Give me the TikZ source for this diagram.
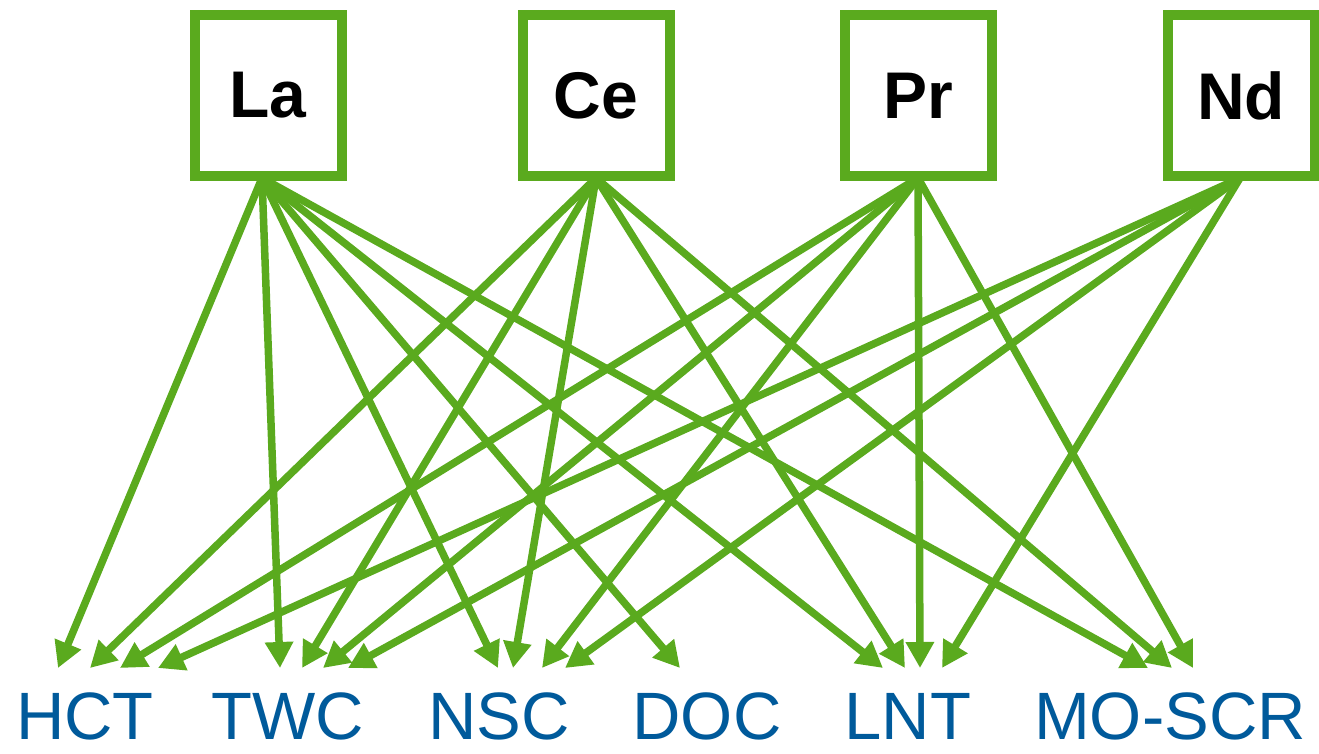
\documentclass[tikz,border=0pt]{standalone}
\usepackage{fontspec}
\setmainfont{Liberation Sans}
\usetikzlibrary{arrows.meta}
\definecolor{lgreen}{RGB}{90,170,30}
\definecolor{lblue}{RGB}{0,90,155}
\begin{document}
\begin{tikzpicture}[x=1pt,y=-1pt,
  elem/.style={draw=lgreen,line width=10pt,fill=white,minimum width=147pt,minimum height=161pt,inner sep=0pt,
    font=\fontsize{66}{78}\selectfont\bfseries,text=black},
  target/.style={anchor=base,font=\fontsize{67}{80}\selectfont,text=lblue,inner sep=0pt},
  link/.style={draw=lgreen,line width=7.5pt,-{Triangle[length=26pt,width=27pt]}}]
\useasboundingbox (0,0) rectangle (1319,753);
% source points
\coordinate (oLa) at (262,178);
\coordinate (oCe) at (596,178);
\coordinate (oPr) at (918,178);
\coordinate (oNd) at (1240,178);
% tips
\coordinate (h1) at (58,668);  \coordinate (h2) at (90,668);  \coordinate (h3) at (120,668);  \coordinate (h4) at (158,668);
\coordinate (t1) at (280,668); \coordinate (t2) at (302,668); \coordinate (t3) at (323,668); \coordinate (t4) at (348,668);
\coordinate (n1) at (498,668); \coordinate (n2) at (513,668); \coordinate (n3) at (542,668); \coordinate (n4) at (565,668);
\coordinate (d1) at (680,668);
\coordinate (l1) at (883,668); \coordinate (l2) at (905,668); \coordinate (l3) at (920,668); \coordinate (l4) at (942,668);
\coordinate (m1) at (1148,668); \coordinate (m2) at (1172,668); \coordinate (m3) at (1193,668);
% arrows
\foreach \t in {h1,t1,n1,d1,l1,m1} \draw[link] (oLa) -- (\t);
\foreach \t in {h2,t2,n2,l2,m2} \draw[link] (oCe) -- (\t);
\foreach \t in {h3,t3,n3,l3,m3} \draw[link] (oPr) -- (\t);
\foreach \t in {h4,t4,n4,l4} \draw[link] (oNd) -- (\t);
% boxes
\node[elem] (La) at (268,95.5) {La};
\node[elem] (Ce) at (596,95.5) {Ce};
\node[elem] (Pr) at (918,95.5) {Pr};
\node[elem] (Nd) at (1241,95.5) {Nd};
% labels
\node[target] (HCT) at (85,739) {HCT};
\node[target] (TWC) at (288,739) {TWC};
\node[target] (NSC) at (499,739) {NSC};
\node[target] (DOC) at (707,739) {DOC};
\node[target] (LNT) at (908,739) {LNT};
\node[target] (MOSCR) at (1170,739) {MO-SCR};
\end{tikzpicture}
\end{document}
